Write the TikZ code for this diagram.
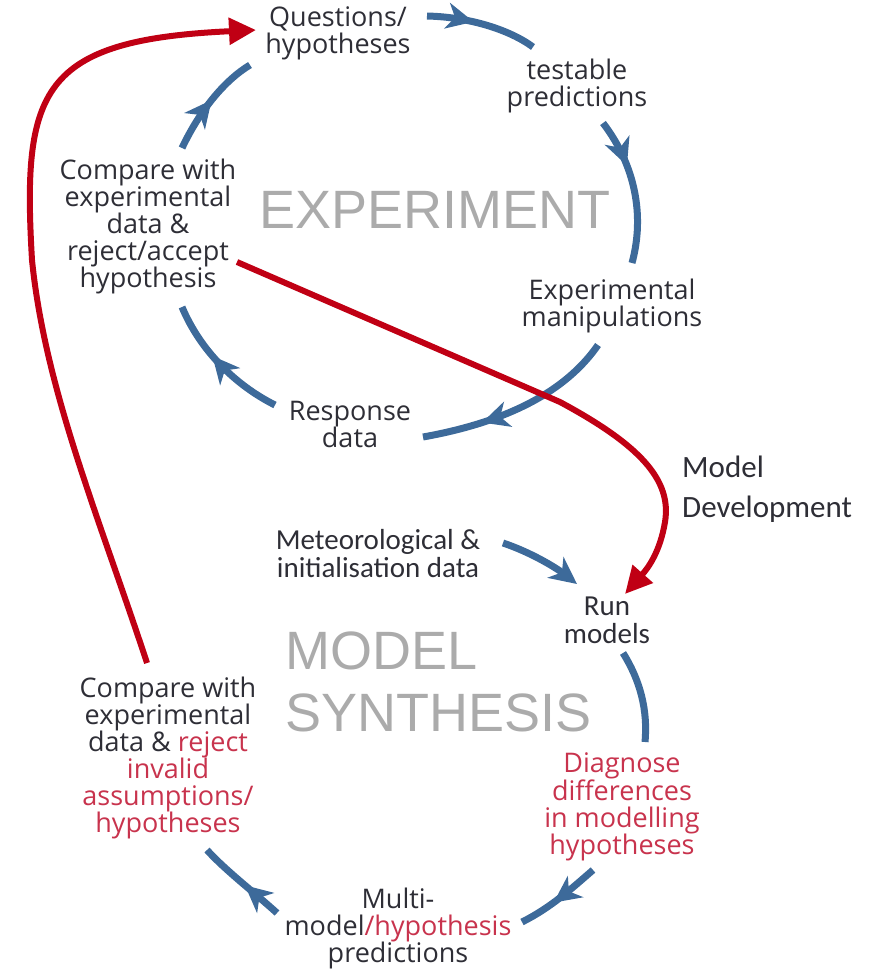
\documentclass[tikz,border=0pt]{standalone}
\usepackage{fontspec}
\setmainfont{Open Sans}
\newfontfamily\calfont{Carlito}
\newfontfamily\bigfont{Liberation Sans}
\usetikzlibrary{arrows.meta,decorations.markings}
\definecolor{cblue}{HTML}{3D6A9A}
\definecolor{cred}{HTML}{C00014}
\definecolor{tred}{HTML}{C8334D}
\definecolor{tdark}{HTML}{2E2E36}
\definecolor{tgray}{HTML}{ABABAB}
\begin{document}
\begin{tikzpicture}[x=1pt,y=-1pt,
  lbl/.style={align=center,text=tdark,font=\fontsize{27}{27}\selectfont,inner sep=0pt},
  callbl/.style={align=center,text=tdark,font=\calfont\fontsize{29}{28}\selectfont,inner sep=0pt},
  biglbl/.style={text=tgray,font=\bigfont\fontsize{54}{62}\selectfont,inner sep=0pt},
  bluearc/.style={draw=cblue,color=cblue,line width=7pt},
  midhead/.style={postaction={decorate},decoration={markings,mark=at position #1 with {\arrow{Stealth[length=27pt,width=26pt,inset=8pt]}}}},
  endhead/.style={-{Stealth[length=27pt,width=26pt,inset=8pt]}},
  redarc/.style={draw=cred,line width=6pt,-{Triangle[length=27pt,width=26pt]}}
]
\useasboundingbox (0,0) rectangle (872,970);

% labels
\node[lbl] (q) at (338,33) {Questions/\\hypotheses};
\node[lbl] (t) at (577,86) {testable\\predictions};
\node[lbl] (ce) at (148,226) {Compare with\\experimental\\data \&\\reject/accept\\hypothesis};
\node[lbl] (em) at (612,306) {Experimental\\manipulations};
\node[lbl] (rd) at (350,424) {Response\\data};
\node[callbl,align=left,anchor=west,font=\calfont\fontsize{31}{40}\selectfont] (md) at (682,489) {Model\\Development};
\node[callbl] (met) at (378,554) {Meteorological \&\\initialisation data};
\node[callbl] (run) at (607,620) {Run\\models};
\node[lbl] (cm) at (168,758) {Compare with\\experimental\\data \& \textcolor{tred}{reject}\\\textcolor{tred}{invalid}\\\textcolor{tred}{assumptions/}\\\textcolor{tred}{hypotheses}};
\node[lbl,text=tred] (dg) at (622,807) {Diagnose\\differences\\in modelling\\hypotheses};
\node[lbl] (mm) at (398,928) {Multi-\\model\textcolor{tred}{/hypothesis}\\predictions};
\node[biglbl] (exp) at (435,210) {EXPERIMENT};
\node[biglbl,align=left,anchor=west] (ms) at (285,682) {MODEL\\SYNTHESIS};

% connector end points
\coordinate (q1) at (427,16);  \coordinate (t1) at (533,47);
\coordinate (t2) at (603,123); \coordinate (e1) at (632,263);
\coordinate (e2) at (598,345); \coordinate (r1) at (423,437);
\coordinate (r2) at (275,405); \coordinate (c1) at (182,307);
\coordinate (c2) at (182,148); \coordinate (q2) at (250,65);
\coordinate (m1) at (503,543); \coordinate (u1) at (577,584);
\coordinate (u2) at (623,653); \coordinate (d1) at (645,742);
\coordinate (d2) at (593,870); \coordinate (p1) at (522,922);
\coordinate (p2) at (277,913); \coordinate (k1) at (207,850);
\coordinate (ra) at (147,663); \coordinate (qa) at (256,30);
\coordinate (rb) at (237,262); \coordinate (ub) at (625,594);

% blue cycle arcs
\draw[bluearc,midhead=0.42] (q1) .. controls (470,17) and (510,30) .. (t1);
\draw[bluearc,midhead=0.33] (t2) .. controls (635,165) and (645,215) .. (e1);
\draw[bluearc,midhead=0.7] (e2) .. controls (560,400) and (490,425) .. (r1);
\draw[bluearc,midhead=0.58] (r2) .. controls (235,385) and (200,350) .. (c1);
\draw[bluearc,midhead=0.52] (c2) .. controls (200,110) and (225,80) .. (q2);
\draw[bluearc,endhead] (m1) .. controls (530,552) and (555,567) .. (u1);
\draw[bluearc] (u2) .. controls (640,680) and (648,710) .. (d1);
\draw[bluearc,midhead=0.58] (d2) .. controls (570,890) and (550,908) .. (p1);
\draw[bluearc,midhead=0.45] (p2) .. controls (255,893) and (225,870) .. (k1);

% red arrows
\draw[redarc] (ra) .. controls (100,520) and (45,390) .. (32,260) .. controls (22,90) and (40,40) .. (qa);
\draw[redarc] (rb) -- (560,402) .. controls (640,445) and (672,480) .. (665,522) .. controls (660,552) and (648,568) .. (ub);
\end{tikzpicture}
\end{document}
